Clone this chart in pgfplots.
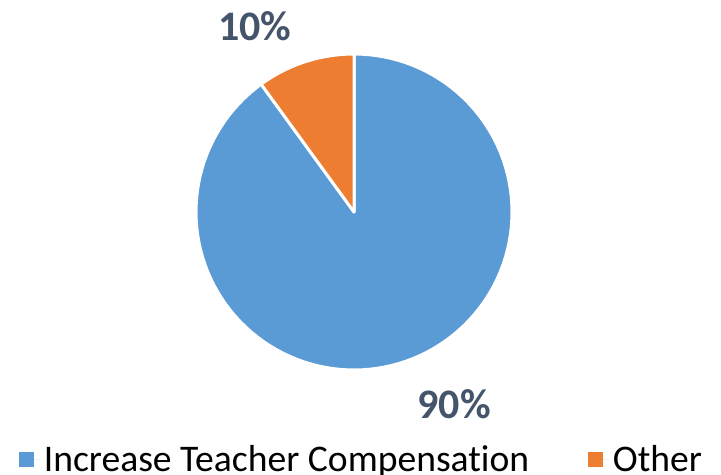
\documentclass[border=0pt]{standalone}
\usepackage{fontspec}
\setmainfont{Carlito}[Ligatures=NoCommon]
\usepackage{pgfplots}
\pgfplotsset{compat=1.18}
\definecolor{pieblue}{HTML}{5B9BD5}
\definecolor{pieorange}{HTML}{ED7D31}
\definecolor{lblcol}{HTML}{44546A}
% shares (percent)
\def\vInc{90}
\def\vOther{10}
\pgfmathsetmacro{\aStart}{90}
\pgfmathsetmacro{\aMid}{90+3.6*\vOther}
\pgfmathsetmacro{\aEnd}{90+3.6*(\vOther+\vInc)}
\begin{document}
\begin{tikzpicture}
\begin{axis}[
  scale only axis, width=360.5pt, height=237.5pt,
  xmin=-354, xmax=367, ymin=-263, ymax=212,
  hide axis, clip=false,
  legend columns=2,
  legend image code/.code={\fill[#1] (0pt,-3.75pt) rectangle (7.5pt,3.75pt); \path (0pt,0pt) -- (10.4pt,0pt);},
  legend style={draw=none, fill=none, at={(axis cs:8.5,-248)}, anchor=center,
    inner sep=0pt, row sep=0pt,
    font=\fontsize{18.8}{22}\selectfont,
    /tikz/every even column/.append style={column sep=27.5pt}},
]
\addlegendimage{fill=pieblue, draw=none}
\addlegendentry{Increase Teacher Compensation}
\addlegendimage{fill=pieorange, draw=none}
\addlegendentry{Other}
\addplot[forget plot, fill=pieblue, draw=white, line width=1.5pt, line join=round,
  data cs=polar, domain=\aMid:\aEnd, samples=120] ({x},{158}) -- (axis cs:0,0) -- cycle;
\addplot[forget plot, fill=pieorange, draw=white, line width=1.5pt, line join=round,
  data cs=polar, domain=\aStart:\aMid, samples=20] ({x},{158}) -- (axis cs:0,0) -- cycle;
\node[font=\bfseries\fontsize{21}{24}\selectfont, text=lblcol] at (axis cs:-99,186) {10\%};
\node[font=\bfseries\fontsize{21}{24}\selectfont, text=lblcol] at (axis cs:100,-192) {90\%};
\end{axis}
\pgfresetboundingbox
\path[use as bounding box] (current axis.south west) rectangle (current axis.north east);
\end{tikzpicture}
\end{document}
